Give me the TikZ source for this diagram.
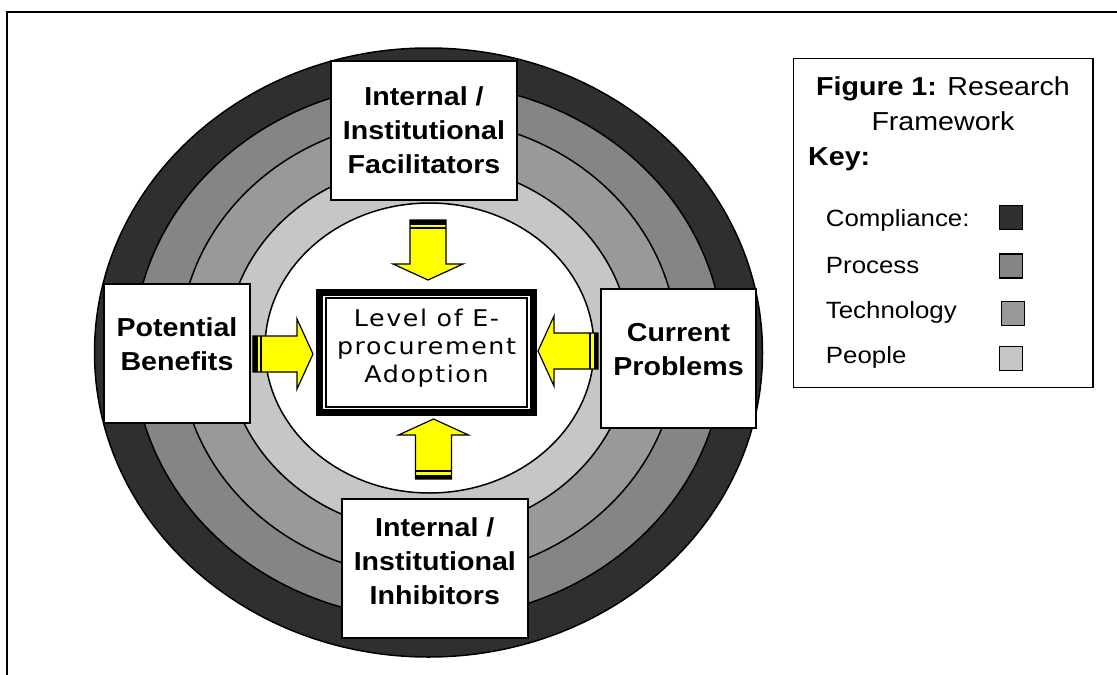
\documentclass[tikz,border=0pt]{standalone}
\usepackage{fontspec}
\setmainfont{Liberation Sans}[FakeStretch=1.1]
\newfontfamily\corefont{DejaVu Sans}[FakeStretch=1.1, LetterSpace=7]

\definecolor{compliance}{HTML}{2F2F2F}
\definecolor{process}{HTML}{858585}
\definecolor{technology}{HTML}{999999}
\definecolor{people}{HTML}{C6C6C6}
\definecolor{arrowyellow}{HTML}{FFFF00}

\tikzset{
  ring/.style={draw=black, line width=1.5pt},
  panel/.style={draw=black, fill=white, line width=1.5pt, inner sep=0pt},
  paneltext/.style={anchor=base, inner sep=0pt, font=\bfseries\fontsize{26}{34}\selectfont},
  keytext/.style={anchor=base west, inner sep=0pt, font=\fontsize{23.5}{28}\selectfont},
  swatch/.style={draw=black, line width=1.5pt, minimum width=23pt, minimum height=24pt, inner sep=0pt},
}

% yellow block arrow: tail at #1, pointing in direction #2 (degrees)
\newcommand\blockarrow[2]{%
  \begin{scope}[shift={(#1)}, rotate=#2]
    \draw[fill=arrowyellow, line width=1.2pt, line join=miter]
      (0,-18) -- (44,-18) -- (44,-35) -- (60,0) -- (44,35) -- (44,18) -- (0,18) -- cycle;
    \fill (0,-18) rectangle (4.5,18);
    \draw[line width=2pt] (8,-18) -- (8,18);
  \end{scope}}

\begin{document}
\begin{tikzpicture}[x=1pt, y=-1pt]
\useasboundingbox (0,0) rectangle (1117,675);
\clip (0,0) rectangle (1117,675);

% page frame
\draw[line width=1.5pt] (7,12) rectangle (1130,690);

% concentric layers
\draw[ring, fill=compliance] (428.5,352.5) ellipse [x radius=334pt, y radius=304.5pt];
\draw[ring, fill=process]    (428.5,351)   ellipse [x radius=295pt, y radius=268pt];
\draw[ring, fill=technology] (428.5,348)   ellipse [x radius=249pt, y radius=229pt];
\draw[ring, fill=people]     (428.5,348)   ellipse [x radius=202pt, y radius=184pt];
\draw[ring, fill=white]      (429.5,348)   ellipse [x radius=164.5pt, y radius=145pt];

% factor boxes
\node[panel, minimum width=186pt, minimum height=139pt] (facil) at (424,130.5) {};
\node[paneltext] (faciltext) at (424,105)
  {\begin{tabular}[t]{@{}c@{}}Internal /\\Institutional\\Facilitators\end{tabular}};

\node[panel, minimum width=146pt, minimum height=139pt] (benefit) at (177,353.5) {};
\node[paneltext] (benefittext) at (177,336.7)
  {\begin{tabular}[t]{@{}c@{}}Potential\\Benefits\end{tabular}};

\node[panel, minimum width=155pt, minimum height=139pt] (problem) at (678.5,358.5) {};
\node[paneltext] (problemtext) at (678.5,341.7)
  {\begin{tabular}[t]{@{}c@{}}Current\\Problems\end{tabular}};

\node[panel, minimum width=186pt, minimum height=139pt] (inhib) at (434.8,568.5) {};
\node[paneltext] (inhibtext) at (434.8,536.7)
  {\begin{tabular}[t]{@{}c@{}}Internal /\\Institutional\\Inhibitors\end{tabular}};

% central outcome box
\node[draw=black, line width=7pt, minimum width=214pt, minimum height=120pt, inner sep=0pt] (core) at (426.5,352.5) {};
\node[draw=black, line width=1.5pt, minimum width=201pt, minimum height=109pt, inner sep=0pt] (coreinner) at (426.5,352.5) {};
\node[anchor=base, inner sep=0pt, font={\corefont\fontsize{23}{28}\selectfont}] (coretext) at (426.5,326.7)
  {\begin{tabular}[t]{@{}c@{}}Level of E-\\procurement\\Adoption\end{tabular}};

% arrows from each factor towards the centre
\coordinate (tailN) at (428,220);
\coordinate (tailS) at (433.5,479);
\coordinate (tailW) at (253,354);
\coordinate (tailE) at (598,351);
\blockarrow{tailN}{-90}
\blockarrow{tailS}{90}
\blockarrow{tailW}{0}
\blockarrow{tailE}{180}

% legend
\node[panel, minimum width=299.7pt, minimum height=329pt] (keybox) at (943.15,222.8) {};
\node[anchor=base, inner sep=0pt, font=\fontsize{26}{35}\selectfont] (keytitle) at (943,95)
  {\begin{tabular}[t]{@{}c@{}}\textbf{Figure 1:} Research\\Framework\end{tabular}};
\node[anchor=base west, inner sep=0pt, font=\bfseries\fontsize{26}{34}\selectfont] (keyhead) at (808,165) {Key:};

\node[keytext] (kcomp) at (825.7,226.7) {Compliance:};
\node[keytext] (kproc) at (825.7,273.3) {Process};
\node[keytext] (ktech) at (825.7,318) {Technology};
\node[keytext] (kpeop) at (825.7,363) {People};

\node[swatch, fill=compliance] (scomp) at (1011,217.5) {};
\node[swatch, fill=process]    (sproc) at (1011,266) {};
\node[swatch, fill=technology] (stech) at (1013,313.7) {};
\node[swatch, fill=people]     (speop) at (1011,358.5) {};
\end{tikzpicture}
\end{document}
